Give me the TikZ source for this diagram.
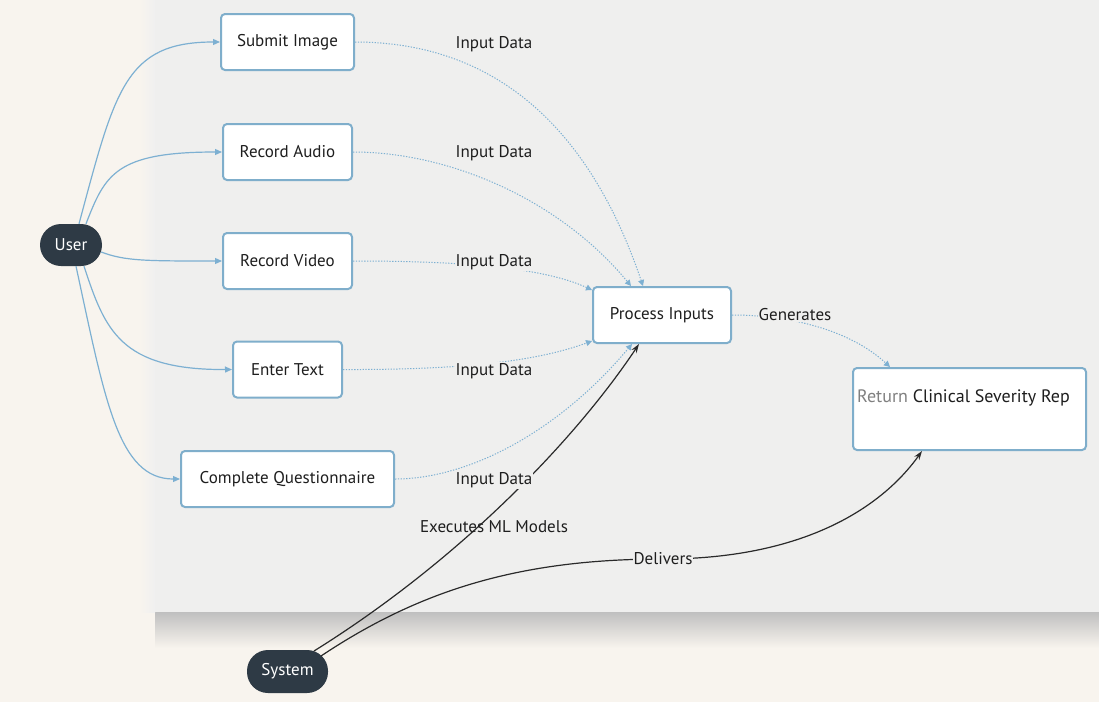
\documentclass[tikz,border=0pt]{standalone}
\usepackage{fontspec}
\setmainfont{PT Sans}
\usetikzlibrary{arrows.meta}
\definecolor{bgc}{HTML}{F8F4EE}
\definecolor{panelc}{HTML}{EFEFEE}
\definecolor{edgeblue}{HTML}{7DB0D2}
\definecolor{boxblue}{HTML}{7FAECB}
\definecolor{pill}{HTML}{2E3A45}
\definecolor{txt}{HTML}{1E1E1E}
\definecolor{blk}{HTML}{2A2A2A}
\begin{document}
\begin{tikzpicture}[x=1pt,y=-1pt,
  lblfont/.style={font=\fontsize{17}{20}\selectfont},
  box/.style={draw=boxblue, line width=2pt, rounded corners=4pt, fill=white,
    minimum height=56pt, inner sep=0pt, text=txt, lblfont},
  pillnode/.style={fill=pill, rounded corners=21pt, text=white, minimum height=42pt,
    inner sep=0pt, lblfont},
  uarrow/.style={draw=edgeblue, line width=1.2pt, -{Triangle[length=7pt,width=6pt]}},
  dotarrow/.style={draw=edgeblue, line width=1pt, dash pattern=on 1.3pt off 1.5pt,
    -{Triangle[length=6pt,width=6pt]}},
  blkarrow/.style={draw=blk, line width=1.2pt, -{Stealth[length=9pt,width=6pt]}},
  lbl/.style={text=txt, inner sep=1pt, lblfont},
  lblfill/.style={lbl, fill=panelc}
]
\useasboundingbox (0,0) rectangle (1099,702);
\fill[bgc] (0,0) rectangle (1099,702);
\shade[top color=black!25, bottom color=bgc] (155,612) rectangle (1099,648);
\shade[left color=bgc, right color=black!6] (140,0) rectangle (155,612);
\fill[panelc] (155,0) rectangle (1099,612);

% nodes
\node[pillnode, minimum width=62pt] (user) at (71,245) {User};
\node[box, minimum width=133pt] (submit) at (287.5,42) {Submit Image};
\node[box, minimum width=129pt] (audio) at (287.5,152) {Record Audio};
\node[box, minimum width=129pt] (video) at (287.5,261) {Record Video};
\node[box, minimum width=109pt] (enter) at (287.5,369.5) {Enter Text};
\node[box, minimum width=213pt] (quest) at (287.5,479) {Complete Questionnaire};
\node[box, minimum width=138pt] (proc) at (662,315) {Process Inputs};
\node[box, minimum width=233pt, minimum height=82pt] (report) at (969.5,409) {};
\node[lbl, anchor=west, font=\fontsize{18}{21}\selectfont] (reptext) at (856,398) {\textcolor{black!50}{Return} Clinical Severity Rep};
\node[pillnode, minimum width=81pt, minimum height=43pt] (system) at (287.5,671.5) {System};

% user edges
\draw[uarrow] ([xshift=8pt]user.north) .. controls (115,90) and (125,42) .. (submit.west);
\draw[uarrow] ([xshift=15pt]user.north) .. controls (105,175) and (115,152) .. (audio.west);
\draw[uarrow] ([xshift=-1pt,yshift=-7pt]user.east) .. controls (125,261) and (145,261) .. (video.west);
\draw[uarrow] ([xshift=13pt]user.south) .. controls (105,330) and (120,370) .. (enter.west);
\draw[uarrow] ([xshift=5pt]user.south) .. controls (105,400) and (118,479) .. (quest.west);

% input data edges
\draw[dotarrow] (submit.east) .. controls (470,42) and (580,100) .. ([xshift=-19pt]proc.north);
\draw[dotarrow] (audio.east) .. controls (450,152) and (560,200) .. ([xshift=-31pt]proc.north);
\draw[dotarrow] (video.east) .. controls (450,261) and (540,266) .. ([yshift=-4pt]proc.north west);
\draw[dotarrow] (enter.east) .. controls (470,370) and (540,360) .. ([yshift=3pt]proc.south west);
\draw[dotarrow] (quest.east) .. controls (470,479) and (560,430) .. ([xshift=-30pt]proc.south);
\draw[dotarrow] (proc.east) .. controls (790,315) and (850,330) .. ([xshift=-79.5pt]report.north);

% system edges
\draw[blkarrow] ([xshift=26.5pt,yshift=20.5pt]system.center) .. controls (460,560) and (575,440) .. ([xshift=-23pt]proc.south);
\draw[blkarrow] ([xshift=33.5pt,yshift=15.5pt]system.center) .. controls (420,590) and (520,559) .. (663,559)
  .. controls (800,559) and (880,510) .. ([xshift=-47.5pt]report.south);

% labels
\node[lbl] (l1) at (494,44) {Input Data};
\node[lbl] (l2) at (494,153) {Input Data};
\node[lblfill] (l3) at (494,262) {Input Data};
\node[lblfill] (l4) at (494,371) {Input Data};
\node[lblfill] (l5) at (494,480) {Input Data};
\node[lblfill] (l6) at (795,315) {Generates};
\node[lbl] (l7) at (494,527) {Executes ML Models};
\node[lblfill] (l8) at (663,559) {Delivers};
\end{tikzpicture}
\end{document}
